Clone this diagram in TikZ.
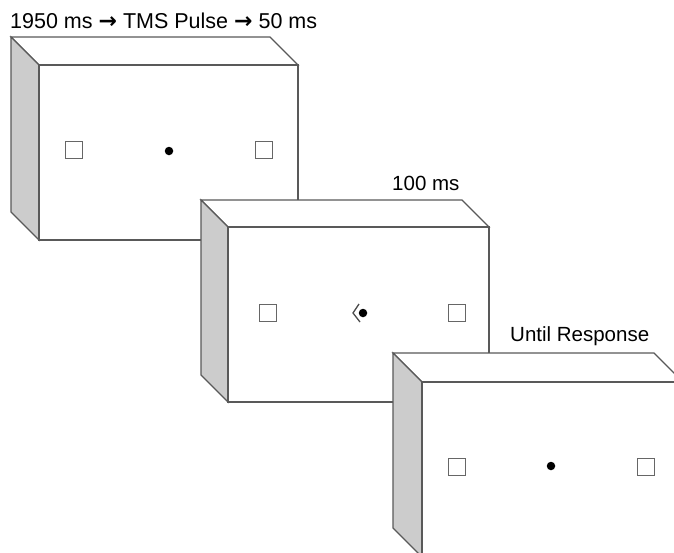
\documentclass[tikz,border=0pt]{standalone}
\usepackage{fontspec}
\setmainfont{Liberation Sans}
\newfontfamily\arrowfont{DejaVu Sans}
\begin{document}
\begin{tikzpicture}[x=1pt,y=-1pt,
  edge/.style={draw=black!65,line width=1.2pt,line join=miter},
  sideface/.style={edge,fill=black!20},
  lab/.style={anchor=base west,inner sep=0pt,font=\fontsize{20.5}{22}\selectfont},
  sq/.style={draw=black!60,line width=1pt,fill=white,minimum size=16.5pt,inner sep=0pt},
  fix/.style={fill=black,circle,minimum size=8.5pt,inner sep=0pt}]
\useasboundingbox (0,0) rectangle (674,552);
\clip (0,0) rectangle (674,552);
\newcommand{\screenbox}[5]{% x0 y0 x1 y1 d
  \fill[white] (#1-#5,#2-#5) -- (#3-#5,#2-#5) -- (#3,#2) -- (#3,#4) -- (#1,#4) -- (#1-#5,#4-#5) -- cycle;
  \draw[edge,fill=white] (#1-#5,#2-#5) -- (#3-#5,#2-#5) -- (#3,#2) -- (#1,#2) -- cycle;
  \draw[sideface] (#1-#5,#2-#5) -- (#1,#2) -- (#1,#4) -- (#1-#5,#4-#5) -- cycle;
  \draw[edge] (#1,#2) rectangle (#3,#4);
}
\newcommand{\tarrow}{{\arrowfont\bfseries\fontsize{22}{22}\selectfont →}}
% box 1
\screenbox{39}{65}{298}{240}{28}
\node[sq] (s1l) at (74,150) {};
\node[sq] (s1r) at (264,150) {};
\node[fix] (f1) at (169,151) {};
% box 2
\screenbox{228}{227}{489}{402}{27}
\node[sq] (s2l) at (268,313) {};
\node[sq] (s2r) at (457,313) {};
\node[fix] (f2) at (363,313) {};
\draw[black!70,line width=1.3pt] (359,304) -- (353,313) -- (360,322);
% box 3
\screenbox{422}{382}{683}{557}{29}
\node[sq] (s3l) at (457,467) {};
\node[sq] (s3r) at (646,467) {};
\node[fix] (f3) at (551,466) {};
% labels
\node[lab,font=\fontsize{21.5}{22}\selectfont] (t1) at (10,28) {1950 ms \tarrow{} TMS Pulse \tarrow{} 50 ms};
\node[lab] (t2) at (392,190) {100 ms};
\node[lab] (t3) at (510,341) {Until Response};
\end{tikzpicture}
\end{document}
